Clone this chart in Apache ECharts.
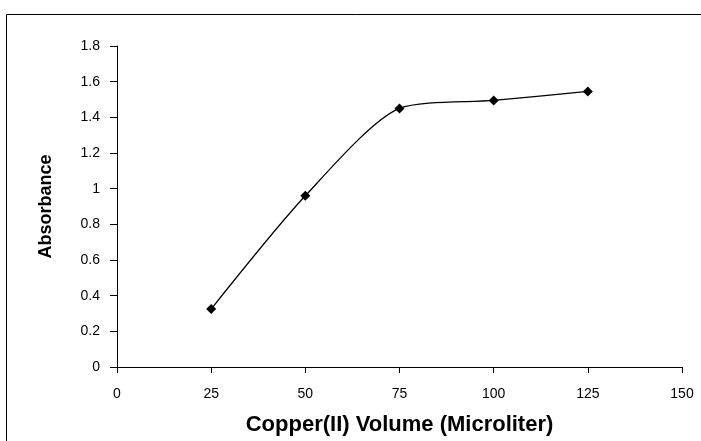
<!DOCTYPE html>
<html>
<head>
<meta charset="utf-8">
<script src="https://cdn.jsdelivr.net/npm/echarts@6/dist/echarts.min.js"></script>
<style>html,body{margin:0;padding:0;background:#fff}#c{width:701px;height:441px}</style>
</head>
<body>
<div id="c"></div>
<script>
var volumes = [25, 50, 75, 100, 125];
var absorbance = [0.325, 0.96, 1.45, 1.495, 1.545];
var xTicks = [0, 25, 50, 75, 100, 125, 150];
var yTicks = [0, 0.2, 0.4, 0.6, 0.8, 1, 1.2, 1.4, 1.6, 1.8];
var xTitle = 'Copper(II) Volume (Microliter)';
var yTitle = 'Absorbance';

var chart = echarts.init(document.getElementById('c'), null, {renderer: 'canvas'});
var font = 'Liberation Sans, Arial, sans-serif';
chart.setOption({
  animation: false,
  backgroundColor: '#fff',
  graphic: [{
    type: 'rect', shape: {x: 6.5, y: 14.5, width: 800, height: 600},
    style: {fill: 'none', stroke: '#000', lineWidth: 1}, silent: true
  }],
  grid: {left: 117, right: 19, top: 46, bottom: 74},
  xAxis: {
    type: 'value', min: 0, max: 150, interval: 25,
    name: xTitle, nameLocation: 'middle', nameGap: 47,
    nameTextStyle: {fontFamily: font, fontSize: 22, fontWeight: 'bold', color: '#000'},
    axisLine: {show: true, lineStyle: {color: '#000', width: 1}},
    axisTick: {show: true, inside: false, length: 6, lineStyle: {color: '#000'}},
    axisLabel: {fontFamily: font, fontSize: 14, color: '#000', margin: 20,
      formatter: function (v) { return xTicks.indexOf(v) >= 0 ? String(v) : ''; }},
    splitLine: {show: false}
  },
  yAxis: {
    type: 'value', min: 0, max: 1.8, interval: 0.2,
    name: yTitle, nameLocation: 'middle', nameGap: 62, nameRotate: 90,
    nameTextStyle: {fontFamily: font, fontSize: 18, fontWeight: 'bold', color: '#000'},
    axisLine: {show: true, lineStyle: {color: '#000', width: 1}},
    axisTick: {show: true, inside: false, length: 7, lineStyle: {color: '#000'}},
    axisLabel: {fontFamily: font, fontSize: 14, color: '#000', margin: 17,
      formatter: function (v) {
        var r = Math.round(v * 10) / 10;
        return yTicks.indexOf(r) >= 0 ? String(r) : '';
      }},
    splitLine: {show: false}
  },
  series: [{
    type: 'line',
    data: volumes.map(function (x, i) { return [x, absorbance[i]]; }),
    smooth: 0.25,
    symbol: 'diamond', symbolSize: 10,
    itemStyle: {color: '#000'},
    lineStyle: {color: '#000', width: 1.3}
  }]
});
</script>
</body>
</html>
